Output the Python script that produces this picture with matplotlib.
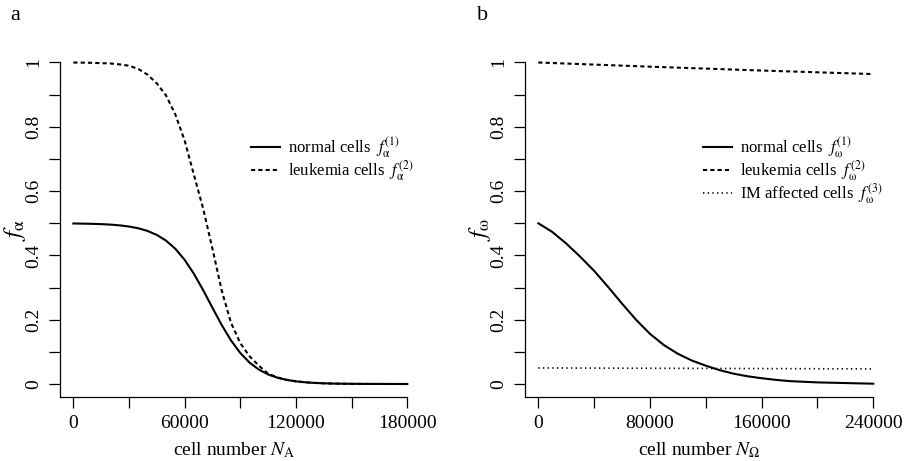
import matplotlib
matplotlib.use("Agg")
import matplotlib.pyplot as plt
from matplotlib.ticker import FixedLocator, FixedFormatter

plt.rcParams['font.family'] = ['Liberation Serif', 'DejaVu Serif']
plt.rcParams['mathtext.fontset'] = 'stix'

# panel a: f_alpha against N_A
n_a = [0, 5000, 10000, 15000, 20000, 25000, 30000, 35000, 40000, 45000,
       50000, 55000, 60000, 65000, 70000, 75000, 80000, 85000, 90000, 95000,
       100000, 105000, 110000, 115000, 120000, 125000, 130000, 135000, 140000,
       145000, 150000, 155000, 160000, 165000, 170000, 175000, 180000]
normal_a = [0.4993, 0.4989, 0.4982, 0.4973, 0.4958, 0.4934, 0.4898, 0.4844,
            0.4761, 0.4637, 0.4458, 0.4204, 0.3861, 0.3427, 0.2916, 0.2367,
            0.1831, 0.1353, 0.0963, 0.0664, 0.0448, 0.0297, 0.0195, 0.0127,
            0.0083, 0.0053, 0.0034, 0.0022, 0.0014, 0.0009, 0.0006, 0.0004,
            0.0002, 0.0002, 0.0001, 0.0001, 0.0]
leuk_a = [1.0, 0.9995, 0.999, 0.998, 0.997, 0.994, 0.990, 0.980, 0.962, 0.935,
          0.897, 0.838, 0.757, 0.650, 0.545, 0.420, 0.290, 0.190, 0.127, 0.086,
          0.057, 0.032, 0.0205, 0.013, 0.0083, 0.0053, 0.0034, 0.0022, 0.0014,
          0.0009, 0.0006, 0.0004, 0.0002, 0.0002, 0.0001, 0.0001, 0.0]

# panel b: f_omega against N_Omega
n_o = [0, 10000, 20000, 30000, 40000, 50000, 60000, 70000, 80000, 90000,
       100000, 110000, 120000, 130000, 140000, 150000, 160000, 170000, 180000,
       190000, 200000, 210000, 220000, 230000, 240000]
normal_o = [0.500, 0.473, 0.437, 0.396, 0.352, 0.302, 0.250, 0.200, 0.156,
            0.121, 0.094, 0.073, 0.057, 0.043, 0.032, 0.024, 0.018, 0.013,
            0.009, 0.007, 0.005, 0.004, 0.003, 0.002, 0.001]
n_o_flat = [0, 40000, 80000, 120000, 160000, 200000, 240000]
leuk_o = [1.000, 0.9935, 0.987, 0.981, 0.975, 0.9695, 0.964]
im_o = [0.050, 0.0495, 0.049, 0.0485, 0.048, 0.0475, 0.047]

W, H = 910, 461
fig = plt.figure(figsize=(W / 100, H / 100), dpi=100)
ax1 = fig.add_axes([60 / W, 64 / H, 347.3 / W, 334.5 / H])
ax2 = fig.add_axes([525 / W, 64 / H, 348.3 / W, 334.5 / H])


def style(ax, step):
    for s in ['top', 'right']:
        ax.spines[s].set_visible(False)
    for s in ['left', 'bottom']:
        ax.spines[s].set_linewidth(0.9)
    ax.set_ylim(-0.0404, 1.0)
    ax.xaxis.set_minor_locator(FixedLocator([step * k for k in (1, 3, 5)]))
    ax.yaxis.set_major_locator(FixedLocator([0, 0.2, 0.4, 0.6, 0.8, 1.0]))
    ax.yaxis.set_major_formatter(FixedFormatter(['0', '0.2', '0.4', '0.6', '0.8', '1']))
    ax.yaxis.set_minor_locator(FixedLocator([0.1, 0.3, 0.5, 0.7, 0.9]))
    ax.tick_params(which='both', direction='out', length=8, width=0.9)
    ax.tick_params(axis='x', labelsize=14, pad=5)
    ax.tick_params(axis='y', labelsize=14, pad=5, labelrotation=90)
    for lab in ax.get_yticklabels():
        lab.set_va('center')


style(ax1, 30000)
ax1.set_xlim(-7200, 180000)
ax1.set_xticks([0, 60000, 120000, 180000])
ax1.set_xticklabels(['0', '60000', '120000', '180000'])

style(ax2, 40000)
ax2.set_xlim(-9530, 240000)
ax2.set_xticks([0, 80000, 160000, 240000])
ax2.set_xticklabels(['0', '80000', '160000', '240000'])

ax1.plot(n_a, normal_a, color='black', lw=1.5, clip_on=False,
         label=r'normal cells  $f_{\mathrm{\alpha}}^{(1)}$')
ax1.plot(n_a, leuk_a, color='black', lw=1.5, dashes=(2, 1.5), clip_on=False,
         label=r'leukemia cells  $f_{\mathrm{\alpha}}^{(2)}$')

ax2.plot(n_o, normal_o, color='black', lw=1.5, clip_on=False,
         label=r'normal cells  $f_{\mathrm{\omega}}^{(1)}$')
ax2.plot(n_o_flat, leuk_o, color='black', lw=1.5, dashes=(2, 1.5), clip_on=False,
         label=r'leukemia cells  $f_{\mathrm{\omega}}^{(2)}$')
ax2.plot(n_o_flat, im_o, color='black', lw=1.2, dashes=(0.8, 2.0), clip_on=False,
         label=r'IM affected cells  $f_{\mathrm{\omega}}^{(3)}$')

ax1.set_xlabel(r'cell number $N_{\mathrm{A}}$', fontsize=14, labelpad=6)
ax2.set_xlabel(r'cell number $N_{\Omega}$', fontsize=14, labelpad=6)
ax1.set_ylabel(r'$f_{\mathrm{\alpha}}$', fontsize=18, labelpad=-2)
ax2.set_ylabel(r'$f_{\mathrm{\omega}}$', fontsize=18, labelpad=-2)

for ax, x0 in ((ax1, 251), (ax2, 703)):
    ax.legend(loc='upper left', bbox_to_anchor=(x0 / W, 1 - 136 / H),
              bbox_transform=fig.transFigure, frameon=False, fontsize=12,
              borderpad=0, borderaxespad=0, handlelength=1.75,
              handletextpad=0.45, labelspacing=-0.12)

fig.text(10 / W, 1 - 16 / H, 'a', fontsize=16, va='center', ha='left')
fig.text(477 / W, 1 - 16 / H, 'b', fontsize=16, va='center', ha='left')

fig.savefig('out.png', dpi=100)
